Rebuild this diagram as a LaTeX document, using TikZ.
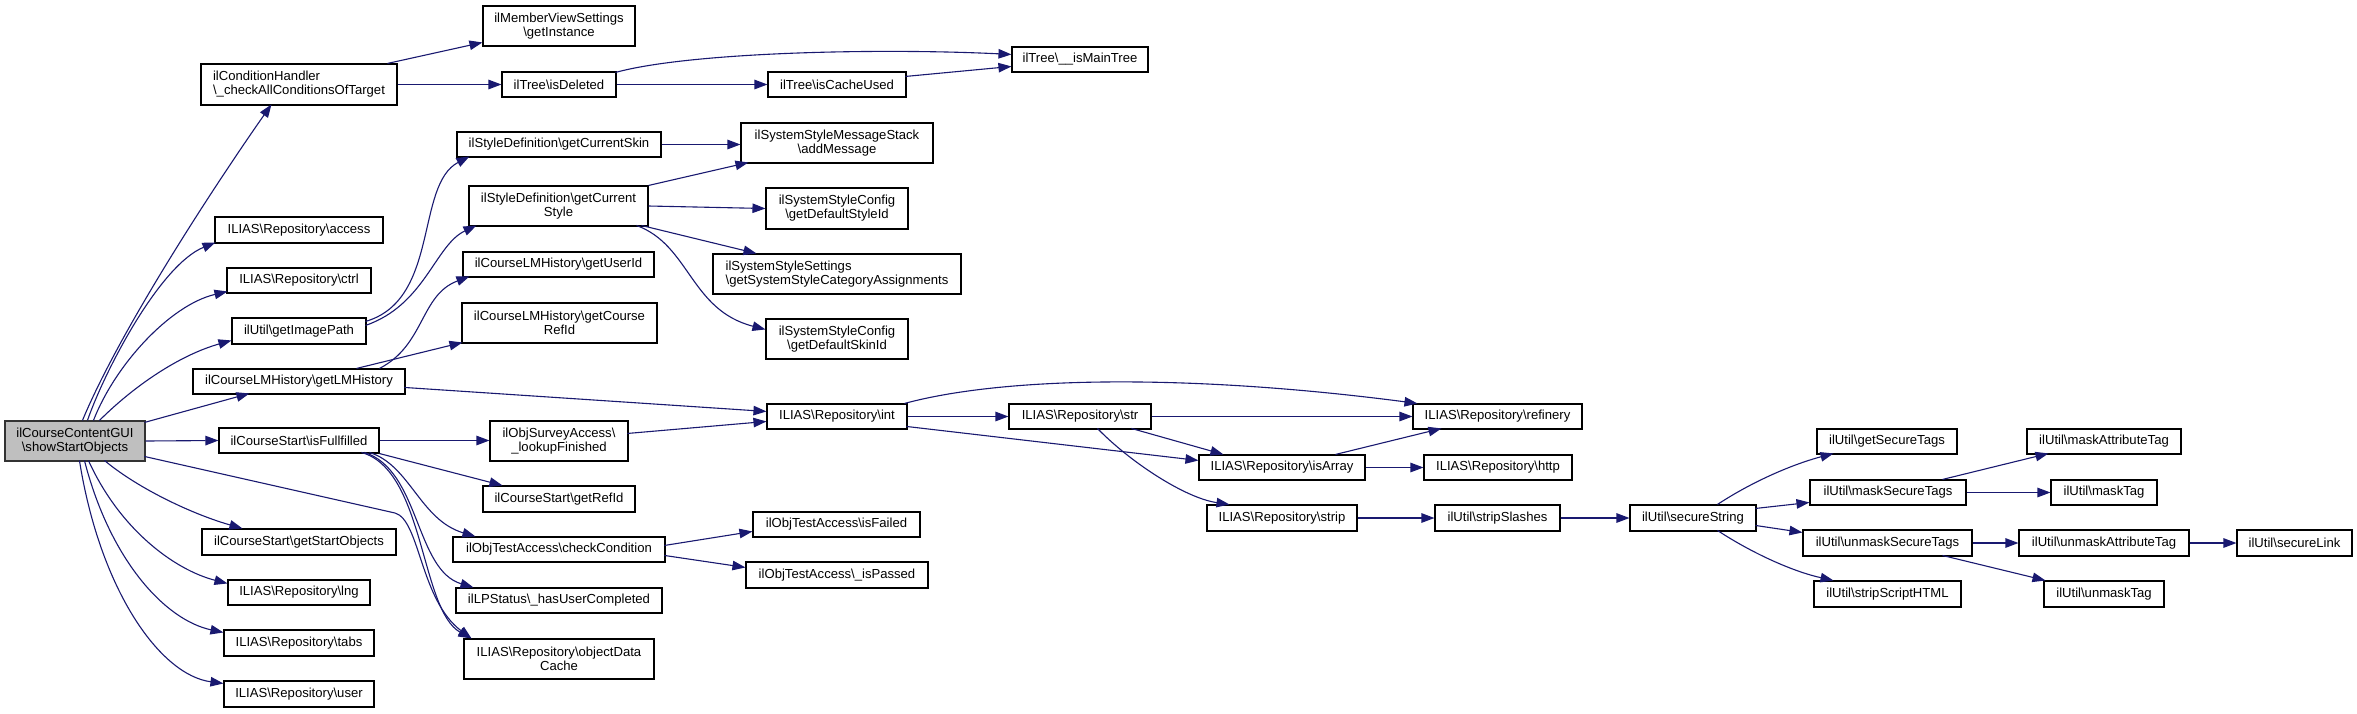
\documentclass[tikz,border=0pt]{standalone}
\usepackage{fontspec}
\setmainfont{Liberation Sans}
\usetikzlibrary{arrows.meta}
\definecolor{edgec}{HTML}{191970}
\definecolor{guifill}{HTML}{BFBFBF}
\newcommand{\myBS}{\textbackslash}
\newcommand{\mkbox}[7][]{\node[box,minimum width={(#4-#3)*1pt},minimum height={(#6-#5)*1pt},#1] (#2) at ({(#3+#4)/2},{-(#5+#6)/2}) {#7};}
\begin{document}
\begin{tikzpicture}[x=1pt,y=1pt,
  box/.style={draw=black,line width=1.1pt,fill=white,inner sep=0pt,align=center,font=\fontsize{13.1}{14}\selectfont},
  guibox/.style={fill=guifill,draw=black!80},
  e/.style={draw=edgec,line width=1.1pt,-{Triangle[length=13pt,width=9.5pt]}}]
\useasboundingbox (0,0) rectangle (2357,-713);
\fill[white] (0,0) rectangle (2357,-713);
% nodes
\mkbox[guibox]{gui}{5}{145}{421}{461}{ilCourseContentGUI\\\myBS showStartObjects}
\mkbox[align=left]{condH}{201}{397}{64}{105}{ilConditionHandler\\\myBS\_checkAllConditionsOfTarget}
\mkbox{memberView}{483}{635}{6}{46}{ilMemberViewSettings\\\myBS getInstance}
\mkbox{isDeleted}{502}{616}{72}{97}{ilTree\myBS isDeleted}
\mkbox{isCacheUsed}{768}{906}{72}{97}{ilTree\myBS isCacheUsed}
\mkbox{isMainTree}{1012}{1148}{47}{72}{ilTree\myBS\_\_isMainTree}
\mkbox{getCurrentSkin}{457}{661}{132}{157}{ilStyleDefinition\myBS getCurrentSkin}
\mkbox{addMessage}{741}{933}{123}{163}{ilSystemStyleMessageStack\\\myBS addMessage}
\mkbox{getCurrentStyle}{469}{648}{186}{226}{ilStyleDefinition\myBS getCurrent\\Style}
\mkbox{getDefaultStyleId}{766}{908}{188}{229}{ilSystemStyleConfig\\\myBS getDefaultStyleId}
\mkbox{getUserId}{463}{654}{252}{277}{ilCourseLMHistory\myBS getUserId}
\mkbox[align=left]{sysStyleSettings}{713}{961}{254}{294}{ilSystemStyleSettings\\\myBS getSystemStyleCategoryAssignments}
\mkbox{getCourseRefId}{462}{657}{303}{343}{ilCourseLMHistory\myBS getCourse\\RefId}
\mkbox{getDefaultSkinId}{766}{908}{319}{359}{ilSystemStyleConfig\\\myBS getDefaultSkinId}
\mkbox{access}{215}{383}{217}{243}{ILIAS\myBS Repository\myBS access}
\mkbox{ctrl}{227}{371}{268}{293}{ILIAS\myBS Repository\myBS ctrl}
\mkbox{getImagePath}{232}{366}{318}{344}{ilUtil\myBS getImagePath}
\mkbox{getLMHistory}{193}{405}{369}{394}{ilCourseLMHistory\myBS getLMHistory}
\mkbox{isFullfilled}{219}{379}{428}{453}{ilCourseStart\myBS isFullfilled}
\mkbox{lookupFinished}{490}{628}{421}{461}{ilObjSurveyAccess\myBS\\\_lookupFinished}
\mkbox{getRefId}{483}{635}{486}{512}{ilCourseStart\myBS getRefId}
\mkbox{getStartObjects}{202}{396}{529}{555}{ilCourseStart\myBS getStartObjects}
\mkbox{checkCondition}{453}{665}{537}{562}{ilObjTestAccess\myBS checkCondition}
\mkbox{lng}{228}{370}{580}{605}{ILIAS\myBS Repository\myBS lng}
\mkbox{hasUserCompleted}{456}{662}{588}{613}{ilLPStatus\myBS\_hasUserCompleted}
\mkbox{tabs}{224}{374}{630}{656}{ILIAS\myBS Repository\myBS tabs}
\mkbox{objectDataCache}{464}{654}{639}{679}{ILIAS\myBS Repository\myBS objectData\\Cache}
\mkbox{user}{224}{374}{681}{707}{ILIAS\myBS Repository\myBS user}
\mkbox{int}{767}{907}{404}{429}{ILIAS\myBS Repository\myBS int}
\mkbox{str}{1009}{1151}{404}{429}{ILIAS\myBS Repository\myBS str}
\mkbox{refinery}{1413}{1582}{404}{429}{ILIAS\myBS Repository\myBS refinery}
\mkbox{isArray}{1199}{1365}{455}{480}{ILIAS\myBS Repository\myBS isArray}
\mkbox{http}{1424}{1572}{455}{480}{ILIAS\myBS Repository\myBS http}
\mkbox{strip}{1207}{1357}{505}{531}{ILIAS\myBS Repository\myBS strip}
\mkbox{stripSlashes}{1435}{1560}{505}{531}{ilUtil\myBS stripSlashes}
\mkbox{isFailed}{753}{920}{512}{537}{ilObjTestAccess\myBS isFailed}
\mkbox{isPassed}{746}{928}{562}{588}{ilObjTestAccess\myBS\_isPassed}
\mkbox{secureString}{1630}{1756}{505}{531}{ilUtil\myBS secureString}
\mkbox{getSecureTags}{1817}{1957}{429}{454}{ilUtil\myBS getSecureTags}
\mkbox{maskSecureTags}{1810}{1966}{480}{505}{ilUtil\myBS maskSecureTags}
\mkbox{maskAttributeTag}{2027}{2181}{429}{454}{ilUtil\myBS maskAttributeTag}
\mkbox{maskTag}{2051}{2157}{480}{505}{ilUtil\myBS maskTag}
\mkbox{unmaskSecureTags}{1803}{1972}{530}{556}{ilUtil\myBS unmaskSecureTags}
\mkbox{unmaskAttributeTag}{2019}{2189}{530}{556}{ilUtil\myBS unmaskAttributeTag}
\mkbox{secureLink}{2237}{2352}{530}{556}{ilUtil\myBS secureLink}
\mkbox{stripScriptHTML}{1814}{1961}{581}{607}{ilUtil\myBS stripScriptHTML}
\mkbox{unmaskTag}{2044}{2164}{581}{607}{ilUtil\myBS unmaskTag}
% edges from gui
\draw[e] ([shift={(78,0)}]gui.north west) .. controls (120,-330) and (215,-185) .. ([shift={(71,-41)}]condH.north west);
\draw[e] ([shift={(83,0)}]gui.north west) .. controls (105,-370) and (160,-265) .. ([shift={(1,-26)}]access.north west);
\draw[e] ([shift={(89,0)}]gui.north west) .. controls (115,-365) and (170,-305) .. ([shift={(1,-24)}]ctrl.north west);
\draw[e] ([shift={(95,0)}]gui.north west) .. controls (135,-385) and (180,-355) .. ([shift={(0,-23)}]getImagePath.north west);
\draw[e] ([shift={(140,-2)}]gui.north west) -- ([shift={(57,-25)}]getLMHistory.north west);
\draw[e] (gui.east) -- (isFullfilled.west);
\draw[e] ([shift={(140,-36)}]gui.north west) -- (395,-513) .. controls (420,-520) and (420,-600) .. ([shift={(8,0)}]objectDataCache.north west);
\draw[e] ([shift={(100,-40)}]gui.north west) .. controls (140,-490) and (195,-515) .. ([shift={(41,0)}]getStartObjects.north west);
\draw[e] ([shift={(84,-40)}]gui.north west) .. controls (120,-530) and (175,-570) .. ([shift={(0,-4)}]lng.north west);
\draw[e] ([shift={(80,-40)}]gui.north west) .. controls (110,-560) and (165,-620) .. ([shift={(0,-3)}]tabs.north west);
\draw[e] ([shift={(75,-40)}]gui.north west) .. controls (100,-590) and (160,-675) .. ([shift={(0,-3)}]user.north west);
% condition handler / tree
\draw[e] ([shift={(187,0)}]condH.north west) -- ([shift={(0,-37)}]memberView.north west);
\draw[e] (condH.east) -- (isDeleted.west);
\draw[e] (isDeleted.east) -- (isCacheUsed.west);
\draw[e] ([shift={(114,-1)}]isDeleted.north west) .. controls (690,-52) and (880,-48) .. ([shift={(0,-8)}]isMainTree.north west);
\draw[e] ([shift={(138,-5)}]isCacheUsed.north west) -- ([shift={(0,-20)}]isMainTree.north west);
% style definition
\draw[e] ([shift={(134,-4)}]getImagePath.north west) .. controls (440,-300) and (415,-185) .. ([shift={(13,-25)}]getCurrentSkin.north west);
\draw[e] ([shift={(134,-8)}]getImagePath.north west) .. controls (425,-305) and (435,-245) .. ([shift={(8,-40)}]getCurrentStyle.north west);
\draw[e] (getCurrentSkin.east) -- (getCurrentSkin.east -| addMessage.west);
\draw[e] (getCurrentStyle.north east) -- ([shift={(8,-40)}]addMessage.north west);
\draw[e] (getCurrentStyle.east) -- (getDefaultStyleId.west);
\draw[e] ([shift={(173,-40)}]getCurrentStyle.north west) -- ([shift={(44,0)}]sysStyleSettings.north west);
\draw[e] ([shift={(168,-40)}]getCurrentStyle.north west) .. controls (690,-245) and (690,-310) .. ([shift={(0,-11)}]getDefaultSkinId.north west);
% LM history
\draw[e] ([shift={(187,0)}]getLMHistory.north west) .. controls (425,-345) and (420,-295) .. ([shift={(7,-25)}]getUserId.north west);
\draw[e] ([shift={(164,0)}]getLMHistory.north west) -- ([shift={(1,-40)}]getCourseRefId.north west);
\draw[e] ([shift={(212,-19)}]getLMHistory.north west) -- ([shift={(0,-8)}]int.north west);
\draw[e] ([shift={(138,-13)}]lookupFinished.north west) -- ([shift={(0,-18)}]int.north west);
% isFullfilled
\draw[e] (isFullfilled.east) -- (isFullfilled.east -| lookupFinished.west);
\draw[e] (isFullfilled.south east) -- ([shift={(20,0)}]getRefId.north west);
\draw[e] ([shift={(151,-25)}]isFullfilled.north west) .. controls (410,-465) and (420,-520) .. ([shift={(23,0)}]checkCondition.north west);
\draw[e] ([shift={(146,-25)}]isFullfilled.north west) .. controls (420,-470) and (415,-570) .. ([shift={(18,0)}]hasUserCompleted.north west);
\draw[e] ([shift={(143,-25)}]isFullfilled.north west) .. controls (425,-470) and (420,-610) .. ([shift={(8,0)}]objectDataCache.north west);
\draw[e] ([shift={(212,-9)}]checkCondition.north west) -- ([shift={(0,-20)}]isFailed.north west);
\draw[e] ([shift={(212,-19)}]checkCondition.north west) -- ([shift={(0,-6)}]isPassed.north west);
% repository
\draw[e] (int.east) -- (str.west);
\draw[e] ([shift={(138,0)}]int.north west) .. controls (1010,-375) and (1200,-375) .. ([shift={(5,0)}]refinery.north west);
\draw[e] ([shift={(140,-23)}]int.north west) -- ([shift={(0,-6)}]isArray.north west);
\draw[e] (str.east) -- (refinery.west);
\draw[e] ([shift={(123,-25)}]str.north west) -- ([shift={(25,0)}]isArray.north west);
\draw[e] ([shift={(89,-25)}]str.north west) .. controls (1130,-462) and (1185,-498) .. ([shift={(23,0)}]strip.north west);
\draw[e] ([shift={(137,0)}]isArray.north west) -- ([shift={(29,-25)}]refinery.north west);
\draw[e] (isArray.east) -- (http.west);
\draw[e] (strip.east) -- (stripSlashes.west);
\draw[e] (stripSlashes.east) -- (secureString.west);
% ilUtil
\draw[e] ([shift={(88,0)}]secureString.north west) .. controls (1750,-483) and (1790,-465) .. ([shift={(17,-25)}]getSecureTags.north west);
\draw[e] ([shift={(126,-4)}]secureString.north west) -- ([shift={(0,-23)}]maskSecureTags.north west);
\draw[e] ([shift={(126,-21)}]secureString.north west) -- ([shift={(0,-3)}]unmaskSecureTags.north west);
\draw[e] ([shift={(88,-26)}]secureString.north west) .. controls (1755,-555) and (1795,-572) .. ([shift={(20,0)}]stripScriptHTML.north west);
\draw[e] ([shift={(133,0)}]maskSecureTags.north west) -- ([shift={(22,-25)}]maskAttributeTag.north west);
\draw[e] (maskSecureTags.east) -- (maskTag.west);
\draw[e] (unmaskSecureTags.east) -- (unmaskAttributeTag.west);
\draw[e] ([shift={(140,-26)}]unmaskSecureTags.north west) -- ([shift={(2,0)}]unmaskTag.north west);
\draw[e] (unmaskAttributeTag.east) -- (secureLink.west);
\end{tikzpicture}
\end{document}
